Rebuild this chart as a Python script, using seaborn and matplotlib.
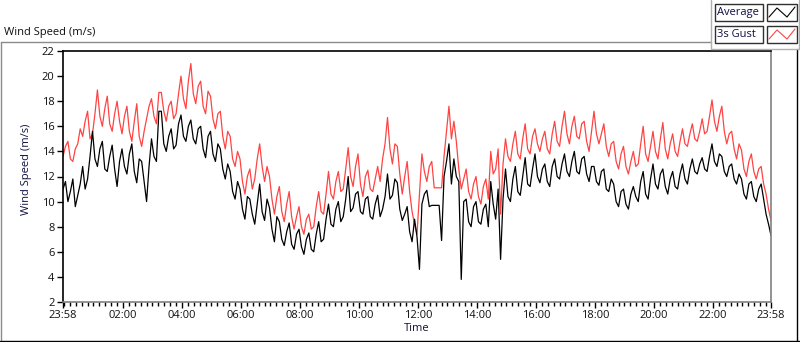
import numpy as np
import pandas as pd
import matplotlib.pyplot as plt
import seaborn as sns
from matplotlib.lines import Line2D
from matplotlib.patches import Rectangle

sns.set_style("white")
plt.rcParams['font.family'] = ['Open Sans', 'DejaVu Sans']

# ---- data (5 minute samples starting 23:58, one row per hour) ----
sample_minutes = 5

avg_speed = [
    11.0, 11.6, 10.0, 10.8, 11.8, 9.6, 10.5, 11.4, 12.8, 11.0, 11.8, 13.6,
    15.6, 13.4, 12.8, 14.2, 14.8, 12.6, 12.4, 13.6, 14.5, 12.6, 11.2, 13.2,
    14.2, 12.8, 12.2, 13.8, 14.6, 12.4, 11.5, 13.4, 13.2, 11.6, 10.0, 12.8,
    15.0, 13.6, 13.2, 17.2, 17.2, 14.6, 14.0, 15.2, 15.8, 14.2, 14.5, 16.2,
    16.9, 15.2, 14.8, 16.0, 16.5, 15.0, 14.6, 15.8, 16.0, 14.2, 13.5, 15.2,
    15.6, 13.8, 13.2, 14.6, 14.2, 12.6, 11.8, 13.0, 12.4, 10.8, 10.2, 11.6,
    11.0, 9.4, 8.6, 10.4, 10.2, 9.0, 8.2, 9.8, 11.4, 9.2, 8.5, 10.2,
    9.5, 7.8, 6.8, 8.8, 8.4, 7.0, 6.5, 7.6, 8.3, 6.6, 6.2, 7.4,
    7.8, 6.4, 5.8, 7.0, 7.5, 6.2, 6.0, 7.4, 8.4, 6.8, 7.0, 8.6,
    9.8, 8.2, 8.0, 9.4, 10.0, 8.4, 8.8, 10.2, 12.0, 9.2, 9.5, 10.6,
    10.8, 9.2, 9.0, 10.2, 10.4, 8.8, 8.6, 9.8, 10.5, 8.8, 9.4, 10.4,
    12.2, 10.2, 10.5, 11.8, 11.5, 9.4, 8.5, 9.0, 9.6, 7.6, 6.8, 8.6,
    7.2, 4.6, 9.8, 10.6, 10.9, 9.6, 9.7, 9.7, 9.7, 9.7, 6.9, 12.0,
    13.2, 14.6, 11.4, 13.4, 12.0, 11.6, 3.8, 10.0, 10.2, 8.4, 8.0, 9.6,
    10.0, 8.4, 8.2, 9.4, 9.8, 8.0, 11.6, 9.8, 8.6, 11.0, 5.4, 10.2,
    12.6, 10.4, 10.0, 11.8, 12.8, 10.8, 10.5, 12.0, 13.5, 11.4, 11.2, 12.6,
    13.8, 12.0, 11.5, 12.6, 13.0, 11.6, 11.2, 12.8, 13.4, 12.0, 11.8, 13.0,
    13.8, 12.4, 12.0, 13.2, 14.0, 12.4, 12.2, 13.4, 13.6, 12.2, 11.6, 12.8,
    12.8, 11.6, 11.3, 12.4, 12.6, 11.0, 10.8, 11.8, 11.4, 10.0, 9.6, 10.8,
    11.0, 9.8, 9.4, 10.6, 11.2, 10.4, 10.0, 11.6, 12.4, 10.6, 10.2, 11.8,
    13.0, 11.4, 11.0, 12.2, 12.6, 11.2, 10.6, 11.8, 12.4, 11.2, 11.0, 12.2,
    13.0, 11.8, 11.4, 12.6, 13.4, 12.4, 12.2, 13.0, 13.5, 12.6, 12.4, 13.6,
    14.6, 13.2, 12.8, 13.8, 13.6, 12.4, 12.0, 12.8, 13.0, 11.8, 11.4, 12.2,
    11.8, 10.6, 10.2, 11.4, 11.6, 10.4, 10.0, 11.0, 11.4, 10.2, 9.0, 8.2,
    7.3,
]

gust_speed = [
    13.6, 14.4, 14.8, 13.4, 13.2, 14.2, 14.6, 15.8, 15.2, 16.4, 17.2, 15.0,
    15.4, 17.0, 18.9, 16.8, 16.0, 17.4, 18.4, 16.2, 15.6, 17.0, 18.0, 16.4,
    15.4, 16.8, 17.6, 15.6, 14.8, 16.4, 17.8, 15.2, 14.4, 15.6, 16.6, 17.6,
    18.2, 16.8, 16.2, 18.7, 18.7, 17.2, 16.4, 17.6, 18.0, 16.6, 17.0, 18.6,
    20.0, 18.2, 17.4, 19.6, 21.0, 18.6, 17.8, 19.2, 19.6, 17.6, 17.0, 18.8,
    18.4, 16.6, 15.8, 17.0, 17.2, 15.2, 14.2, 15.6, 15.2, 13.4, 12.8, 14.0,
    13.4, 11.6, 10.6, 12.0, 12.6, 11.0, 11.8, 13.4, 14.6, 12.8, 11.6, 12.8,
    12.0, 10.2, 9.0, 10.4, 11.2, 9.2, 8.4, 9.8, 10.8, 8.8, 7.8, 8.8,
    9.6, 8.0, 7.4, 8.6, 9.0, 7.8, 8.0, 9.6, 10.8, 9.2, 9.0, 10.6,
    12.4, 10.6, 10.2, 11.6, 12.4, 10.8, 11.0, 12.6, 14.3, 12.0, 11.2, 12.8,
    13.8, 11.4, 10.4, 12.0, 12.5, 11.0, 10.8, 11.8, 12.8, 11.6, 13.4, 14.6,
    16.7, 14.2, 13.0, 14.6, 14.4, 12.2, 10.6, 12.0, 13.2, 10.8, 9.2, 8.2,
    7.4, 10.6, 13.8, 12.4, 11.6, 12.8, 13.2, 11.1, 11.1, 11.1, 11.1, 13.6,
    15.6, 17.6, 15.0, 16.4, 14.8, 12.6, 11.0, 11.8, 12.6, 10.8, 10.2, 11.4,
    12.0, 10.4, 9.8, 11.2, 11.8, 10.2, 14.0, 12.2, 12.6, 14.2, 9.0, 13.0,
    15.0, 13.6, 13.2, 14.6, 15.6, 13.8, 13.4, 15.0, 16.2, 14.2, 13.8, 15.2,
    15.8, 14.6, 14.0, 15.0, 15.6, 14.2, 13.8, 15.4, 16.4, 14.8, 14.4, 16.0,
    17.2, 15.4, 14.6, 16.0, 16.8, 15.2, 15.0, 16.2, 16.4, 14.8, 14.0, 15.6,
    17.2, 15.4, 14.6, 15.4, 16.2, 14.4, 13.6, 14.6, 14.8, 13.2, 12.6, 13.8,
    14.4, 12.8, 12.2, 13.2, 14.0, 12.8, 13.0, 14.6, 16.0, 13.8, 13.2, 14.4,
    15.6, 14.0, 13.4, 15.0, 16.3, 14.2, 13.4, 14.6, 15.4, 14.0, 13.6, 14.8,
    15.8, 14.6, 14.4, 15.4, 16.2, 15.0, 14.8, 15.6, 16.6, 15.4, 15.6, 16.8,
    18.1, 16.4, 15.6, 16.8, 17.6, 15.6, 14.6, 15.4, 15.6, 14.2, 13.4, 14.6,
    14.1, 12.6, 12.0, 13.2, 13.8, 12.4, 11.8, 12.6, 12.8, 11.4, 10.6, 9.4,
    8.5,
]

x_tick_labels = ["23:58", "02:00", "04:00", "06:00", "08:00", "10:00", "12:00",
                 "14:00", "16:00", "18:00", "20:00", "22:00", "23:58"]
y_ticks = [2, 4, 6, 8, 10, 12, 14, 16, 18, 20, 22]

hours = np.arange(len(avg_speed)) * sample_minutes / 60.0
df = pd.DataFrame({"hours": hours, "Average": avg_speed, "3s Gust": gust_speed})

# tick positions: hours since the start (23:58)
def hours_since_start(lbl, last=False):
    h, m = map(int, lbl.split(":"))
    mins = (h * 60 + m - (23 * 60 + 58)) % 1440
    if last and mins == 0:
        mins = 1440
    return mins / 60.0

x_ticks = [hours_since_start(l, i == len(x_tick_labels) - 1) for i, l in enumerate(x_tick_labels)]

# ---- figure ----
W, H = 800, 342
fig = plt.figure(figsize=(W / 100, H / 100), dpi=100)

def fx(x):
    return x / W

def fy(y):
    return 1 - y / H

ax = fig.add_axes([fx(63), fy(302), (771 - 63) / W, (302 - 51) / H])

sns.lineplot(data=df, x="hours", y="3s Gust", color="#ff4343", lw=0.9, ax=ax,
             estimator=None, legend=False)
sns.lineplot(data=df, x="hours", y="Average", color="black", lw=0.9, ax=ax,
             estimator=None, legend=False)

ax.set_xlim(0, 24)
ax.set_ylim(2, 22)
ax.set_yticks(y_ticks)
ax.set_yticklabels([str(v) for v in y_ticks], fontsize=8)
ax.set_xticks(x_ticks)
ax.set_xticklabels(x_tick_labels, fontsize=8)
ax.set_xticks(np.arange(2 / 60, 24, 0.2), minor=True)
ax.tick_params(axis="both", which="major", direction="out", length=4, width=1,
               color="black", pad=2, labelcolor="#101010")
ax.tick_params(axis="x", which="minor", direction="out", length=3, width=1, color="black")
ax.tick_params(axis="x", which="both", bottom=True)
ax.tick_params(axis="y", which="both", left=True)

ax.set_xlabel("Time", fontsize=8, labelpad=1, color="#101030")
ax.set_ylabel("Wind Speed (m/s)", fontsize=8, labelpad=4, color="#101040")
ax.yaxis.set_label_coords(-0.044, 0.53)
ax.grid(False)

for side in ["top", "left"]:
    ax.spines[side].set_color("black")
    ax.spines[side].set_linewidth(1.2)
for side in ["right", "bottom"]:
    ax.spines[side].set_color("#808080")
    ax.spines[side].set_linewidth(1.2)

# chart caption
fig.text(fx(4), fy(32), "Wind Speed (m/s)", fontsize=8, ha="left", va="center", color="#101010")

# outer frame of the control
def fline(xs, ys, color, lw=1.0):
    fig.add_artist(Line2D([fx(v) for v in xs], [fy(v) for v in ys],
                          transform=fig.transFigure, color=color, lw=lw))

fline([0.5, 711], [42, 42], "#8a8a8a")
fline([0.5, 0.5], [42, 341], "#8a8a8a")
fline([0, 800], [340.5, 340.5], "black")
fline([797, 797], [49, 341], "black")
fline([711, 711], [0, 49], "#b0b0b0")
fline([711, 799], [49, 49], "#b0b0b0")
fline([799, 799], [0, 49], "#b0b0b0")

# legend boxes
legend_items = [("Average", "black", 4), ("3s Gust", "#ff4343", 26)]
for name, col, top in legend_items:
    fig.add_artist(Rectangle((fx(715), fy(top + 17)), 48 / W, 17 / H, transform=fig.transFigure,
                             facecolor="white", edgecolor="#303030", lw=1.0))
    fig.text(fx(717), fy(top + 8.5), name, fontsize=8, ha="left", va="center", color="#101040")
    fig.add_artist(Rectangle((fx(767), fy(top + 17)), 30 / W, 17 / H, transform=fig.transFigure,
                             facecolor="white", edgecolor="#303030", lw=1.0))
    fline([769, 777, 787, 795], [top + 13, top + 4, top + 13, top + 3], col, lw=0.8)

fig.savefig("out.png", dpi=100)
